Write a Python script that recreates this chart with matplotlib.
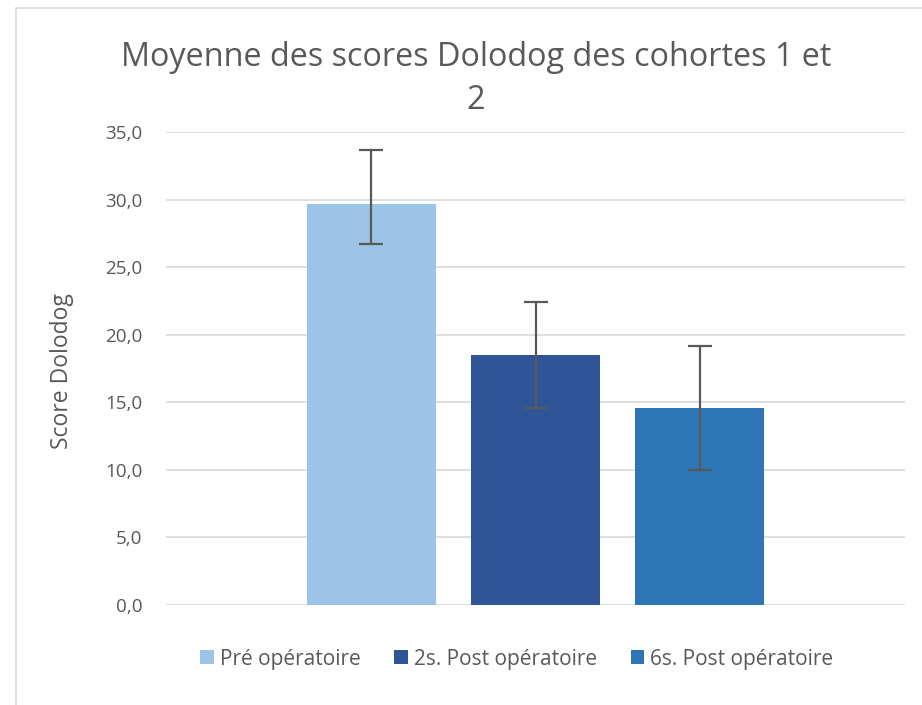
import matplotlib.pyplot as plt
from matplotlib.patches import Patch, Rectangle
from matplotlib.ticker import FuncFormatter, MultipleLocator

plt.rcParams['font.family'] = ['Open Sans', 'DejaVu Sans']

# mean Dolodog scores, with lower / upper error values
series = ['Pré opératoire', '2s. Post opératoire', '6s. Post opératoire']
means = [29.7, 18.5, 14.6]
err_low = [3.0, 3.9, 4.6]
err_high = [4.0, 3.9, 4.6]
colors = ['#9DC3E6', '#2F5597', '#2E75B6']

title = 'Moyenne des scores Dolodog des cohortes 1 et\n2'
ylabel = 'Score Dolodog'
grey = '#595959'

W, H = 922, 705
fig = plt.figure(figsize=(W / 100, H / 100), dpi=100)

# chart frame (right and bottom edges fall outside the image)
fig.patches.append(Rectangle((16 / W, -0.1), 1.2, 1 - 8 / H + 0.1,
                             transform=fig.transFigure, fill=False,
                             edgecolor='#D9D9D9', linewidth=1.2))

ax = fig.add_axes([166 / W, 1 - 605 / H, (905 - 166) / W, (605 - 132) / H])

pos = [-1, 0, 1]
ax.bar(pos, means, width=0.79, color=colors, zorder=2)
ax.errorbar(pos, means, yerr=[err_low, err_high], fmt='none', ecolor=grey,
            elinewidth=1.6, capsize=8.6, capthick=1.6, zorder=3)

ax.set_xlim(-2.253, 2.253)
ax.set_ylim(0, 35)
ax.yaxis.set_major_locator(MultipleLocator(5))
ax.yaxis.set_major_formatter(FuncFormatter(lambda v, p: f'{v:.1f}'.replace('.', ',')))
ax.grid(axis='y', color='#D9D9D9', linewidth=1.2, zorder=0)
ax.set_axisbelow(True)
ax.set_xticks([])
ax.tick_params(axis='y', length=0, pad=17, labelsize=13.6, labelcolor=grey)
for s in ax.spines.values():
    s.set_visible(False)

fig.text(62 / W, 1 - 371 / H, ylabel, rotation=90, ha='center', va='center',
         fontsize=16.5, color=grey)
fig.text(476 / W, 1 - 79 / H, title, ha='center', va='center',
         fontsize=23.3, color=grey, linespacing=1.42)

handles = [Patch(facecolor=c, edgecolor='none') for c in colors]
fig.legend(handles, series, loc='center', bbox_to_anchor=(517 / W, 1 - 659 / H),
           ncol=3, frameon=False, fontsize=15, labelcolor=grey,
           handlelength=0.65, handleheight=0.65, handletextpad=0.3,
           columnspacing=1.6)

fig.savefig('out.png', dpi=100)
